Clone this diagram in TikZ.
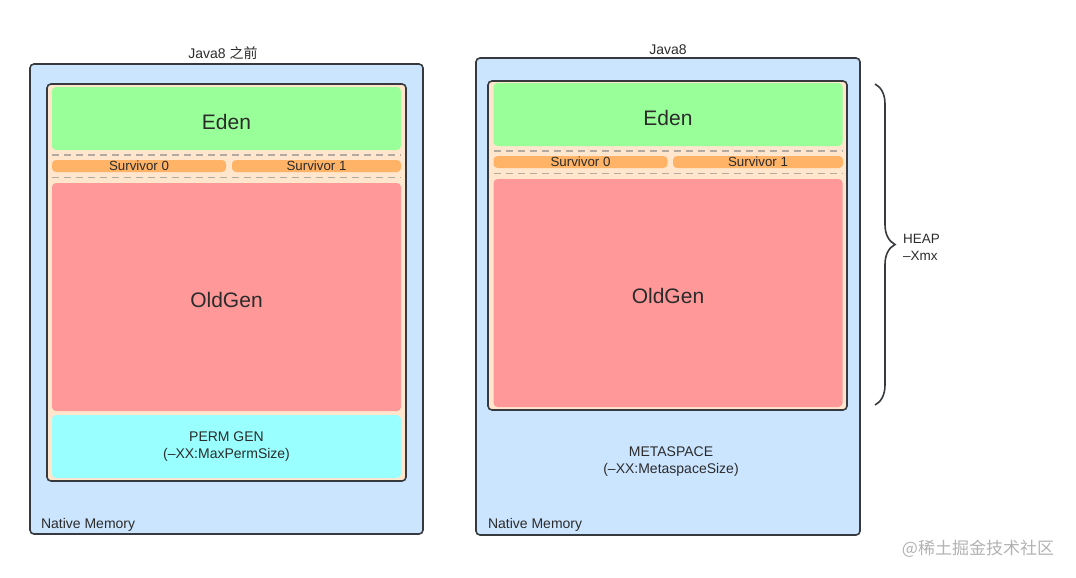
\documentclass[tikz,border=0pt]{standalone}
\usepackage{fontspec}
\setmainfont{Liberation Sans}
\newfontfamily\cjk{Noto Sans CJK SC}
\usetikzlibrary{decorations.pathreplacing}
\definecolor{nativeblue}{HTML}{CCE5FF}
\definecolor{heappeach}{HTML}{FFE6CC}
\definecolor{edengreen}{HTML}{99FF99}
\definecolor{survorange}{HTML}{FFB366}
\definecolor{oldred}{HTML}{FF9999}
\definecolor{permcyan}{HTML}{99FFFF}
\definecolor{edgegray}{HTML}{36393D}
\definecolor{textgray}{HTML}{2B2B2B}
\definecolor{dashgray}{HTML}{B4AAA0}
\begin{document}
\begin{tikzpicture}[x=1pt,y=-1pt,
  every node/.style={inner sep=0pt, outer sep=0pt, text=textgray},
  nativebox/.style={draw=edgegray, line width=1.6pt, fill=nativeblue, rounded corners=4pt},
  heapbox/.style={draw=edgegray, line width=1.6pt, fill=heappeach, rounded corners=4pt},
  region/.style={rounded corners=4pt},
  edenbox/.style={region, fill=edengreen, minimum width=349pt, minimum height=63pt, text height=21pt, text depth=0pt, font=\fontsize{21}{25}\selectfont},
  survbox/.style={region, fill=survorange, minimum height=12pt, font=\fontsize{13.3}{15}\selectfont},
  oldbox/.style={region, fill=oldred, minimum width=349pt, minimum height=228pt, text height=21pt, text depth=0pt, font=\fontsize{21}{25}\selectfont},
  permbox/.style={region, fill=permcyan, minimum width=349pt, minimum height=63pt, align=center, font=\fontsize{14}{17}\selectfont},
  plain/.style={font=\fontsize{14}{17}\selectfont},
  survdash/.style={draw=dashgray, line width=1.5pt, dash pattern=on 7pt off 5pt},
  heapbrace/.style={draw=edgegray, line width=1.6pt, decorate, decoration={brace, amplitude=20pt}}]
\useasboundingbox (0,0) rectangle (1076,578);

\node[plain, anchor=base] (titleL) at (223,59) {Java8 {\cjk 之前}};
\node[nativebox, minimum width=393pt, minimum height=470pt] (nativeL) at (226.5,299) {};
\node[heapbox, minimum width=359pt, minimum height=397pt] (heapL) at (226.5,282.5) {};
\node[edenbox] (edenL) at (226.5,118.5) {Eden};
\node[survbox, minimum width=174pt] (surv0L) at (139,166) {Survivor 0};
\node[survbox, minimum width=169pt] (surv1L) at (316.5,166) {Survivor 1};
\node[oldbox] (oldL) at (226.5,297) {OldGen};
\node[permbox] (permL) at (226.5,446.5) {PERM GEN\\(–XX:MaxPermSize)};
\node[plain, anchor=base west] (memL) at (41,528) {Native Memory};
\draw[survdash] ([yshift=-5pt]edenL.south west) -- ([yshift=-5pt]edenL.south east);
\draw[survdash] ([yshift=5.5pt]oldL.north west) -- ([yshift=5.5pt]oldL.north east);

\node[plain, anchor=base] (titleR) at (668,55) {Java8};
\node[nativebox, minimum width=384pt, minimum height=477pt] (nativeR) at (668,296.5) {};
\node[heapbox, minimum width=359pt, minimum height=329pt] (heapR) at (667.5,245.5) {};
\node[edenbox] (edenR) at (668,114.5) {Eden};
\node[survbox, minimum width=174pt] (surv0R) at (580.5,162) {Survivor 0};
\node[survbox, minimum width=170pt] (surv1R) at (758,162) {Survivor 1};
\node[oldbox] (oldR) at (668,293) {OldGen};
\node[plain, align=center] (metaR) at (671,462) {METASPACE\\(–XX:MetaspaceSize)};
\node[plain, anchor=base west] (memR) at (488,528) {Native Memory};
\draw[survdash] ([yshift=-5pt]edenR.south west) -- ([yshift=-5pt]edenR.south east);
\draw[survdash] ([yshift=5.5pt]oldR.north west) -- ([yshift=5.5pt]oldR.north east);

\coordinate (heapTop) at (875,84);
\coordinate (heapBot) at (875,405);
\draw[heapbrace] (heapTop) -- (heapBot);
\node[anchor=west, align=left, font=\fontsize{13.5}{17}\selectfont] (heapText) at (903,247) {HEAP\\–Xmx};

\node[text=black!30, font=\cjk\fontsize{17}{20}\selectfont] (mark) at (978,549) {@稀土掘金技术社区};
\end{tikzpicture}
\end{document}
